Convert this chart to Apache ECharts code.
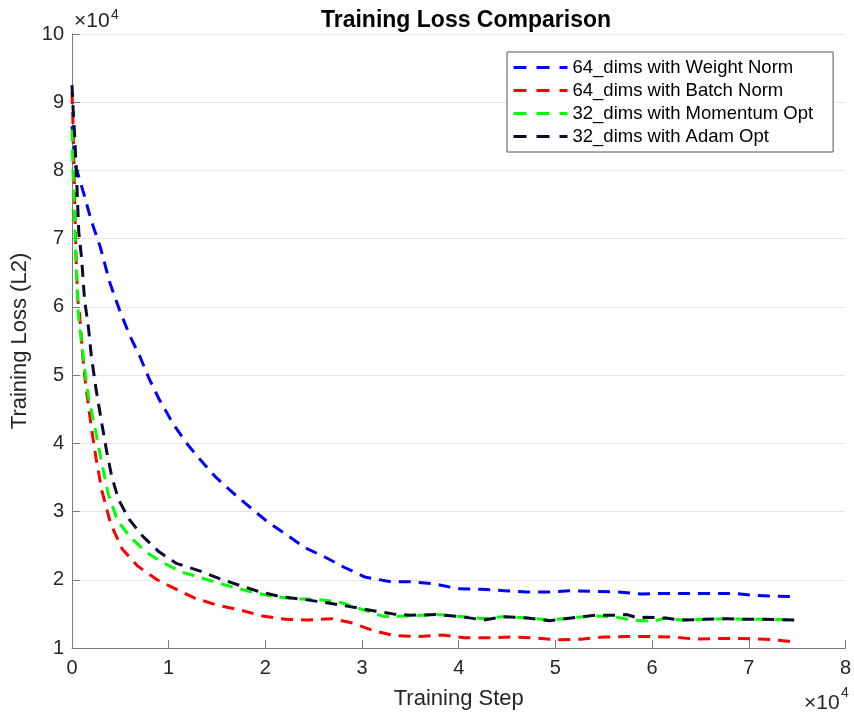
<!DOCTYPE html>
<html>
<head>
<meta charset="utf-8">
<script src="https://cdn.jsdelivr.net/npm/echarts@6/dist/echarts.min.js"></script>
<style>
  html, body { margin: 0; padding: 0; background: #fff; }
  #chart { width: 854px; height: 715px; }
</style>
</head>
<body>
<div id="chart"></div>
<script>
// 训练步数 / 损失 (原始单位, 坐标轴显示为 ×10^4)
var xTicks = [0, 10000, 20000, 30000, 40000, 50000, 60000, 70000, 80000];
var yTicks = [10000, 20000, 30000, 40000, 50000, 60000, 70000, 80000, 90000, 100000];

var seriesNames = [
  "64_dims with Weight Norm",
  "64_dims with Batch Norm",
  "32_dims with Momentum Opt",
  "32_dims with Adam Opt"
];

var weightNorm = [
  [0, 86500], [400, 80500], [1200, 76700], [2000, 72600], [2900, 68900], [3900, 63600],
  [4900, 59600], [6000, 55700], [7000, 52800], [8000, 49400], [9000, 46500], [10400, 43000],
  [11800, 40100], [13200, 37700], [14900, 35000], [16600, 32800], [18600, 30400], [20300, 28400],
  [22400, 26400], [24100, 24700], [26200, 23300], [28200, 21800], [30300, 20400], [33000, 19700],
  [35000, 19700], [37500, 19400], [39900, 18700], [42300, 18600], [44700, 18400], [47100, 18200],
  [49300, 18200], [51700, 18400], [54100, 18300], [56500, 18200], [58900, 17900], [61300, 18000],
  [63700, 18000], [66100, 18000], [68500, 18000], [70700, 17700], [73100, 17600], [74800, 17500]
];

var batchNorm = [
  [0, 91500], [100, 87000], [200, 81000], [300, 74000], [450, 66000], [600, 61100],
  [800, 58700], [1000, 54800], [1200, 51300], [1500, 47700], [2000, 42300], [2500, 37700],
  [3100, 33000], [4000, 28200], [5200, 24500], [6800, 22000], [8800, 20000], [10800, 18600],
  [12700, 17300], [15000, 16300], [17300, 15600], [19700, 14700], [22100, 14200], [24300, 14100],
  [26900, 14300], [28900, 13700], [31300, 12500], [33400, 11800], [35900, 11700], [38300, 11900],
  [40600, 11500], [43000, 11500], [45400, 11600], [47800, 11500], [50200, 11200], [52600, 11300],
  [55000, 11600], [57300, 11700], [59700, 11700], [62200, 11600], [64500, 11300], [66900, 11400],
  [69300, 11400], [71700, 11300], [74100, 11000], [74800, 10800]
];

var momentumOpt = [
  [0, 86000], [100, 80000], [200, 76000], [400, 67000], [650, 59000], [1200, 52000],
  [1700, 46800], [2300, 42800], [3000, 37700], [3700, 32800], [4700, 28700], [6000, 26300],
  [7700, 24000], [9400, 22500], [11400, 21100], [13800, 20100], [16200, 19100], [18600, 18200],
  [20700, 17600], [23100, 17200], [25500, 17100], [27500, 16800], [29900, 15700], [32300, 14600],
  [35000, 14700], [37800, 14900], [40200, 14600], [42600, 14300], [44600, 14600], [47100, 14400],
  [49400, 14100], [52200, 14500], [54200, 14700], [56000, 14600], [58000, 14100], [60100, 13900],
  [61400, 14400], [63000, 14100], [65400, 14200], [67800, 14300], [69500, 14200], [71600, 14200],
  [74800, 14100]
];

var adamOpt = [
  [0, 92500], [100, 89400], [300, 84500], [500, 78000], [700, 71000], [1000, 67000],
  [1300, 61000], [1700, 57000], [2000, 52800], [2500, 47800], [3100, 42800], [3600, 38700],
  [4100, 35200], [4800, 31800], [5900, 28900], [7300, 26400], [9000, 24100], [10800, 22400],
  [13200, 21300], [15200, 20200], [17300, 19200], [19500, 18200], [21700, 17500], [24100, 17100],
  [26500, 16600], [28600, 16100], [31000, 15500], [33200, 15000], [35000, 14800], [37800, 14900],
  [40200, 14600], [42600, 14100], [44600, 14600], [47100, 14400], [49400, 14000], [52200, 14500],
  [54200, 14800], [56000, 14800], [57400, 14900], [58500, 14400], [59300, 14500], [61400, 14400],
  [63000, 14100], [65400, 14200], [67800, 14300], [69500, 14200], [71600, 14200], [74800, 14100]
];

var colors = ["#0000ff", "#ff0000", "#00ff00", "#0b0b2e"];
var font = "Liberation Sans, Arial, Helvetica, sans-serif";

function makeSeries(name, data, color) {
  return {
    name: name,
    type: "line",
    data: data,
    showSymbol: false,
    symbol: "none",
    symbolSize: 0,
    lineStyle: { color: color, width: 3, type: [12, 8], cap: "butt" },
    itemStyle: { color: color },
    animation: false
  };
}

var chart = echarts.init(document.getElementById("chart"));

var option = {
  backgroundColor: "#fff",
  animation: false,
  title: {
    text: "Training Loss Comparison",
    left: 461,
    top: 4,
    textAlign: "center",
    textStyle: { fontFamily: font, fontSize: 23, fontWeight: "bold", color: "#000" }
  },
  grid: { left: 72, right: 4, top: 34, bottom: 66 },
  legend: {
    left: 507,
    top: 52,
    orient: "vertical",
    data: seriesNames,
    itemWidth: 54,
    itemHeight: 14,
    itemGap: 4,
    padding: [6, 20, 6, 5],
    borderColor: "#555",
    borderWidth: 1,
    backgroundColor: "#fff",
    itemStyle: { opacity: 0 },
    lineStyle: { width: 3, type: [13, 10] },
    textStyle: { fontFamily: font, fontSize: 18.5, color: "#000" }
  },
  xAxis: {
    type: "value",
    min: 0,
    max: 80000,
    interval: 10000,
    name: "Training Step",
    nameLocation: "middle",
    nameGap: 40,
    nameTextStyle: { fontFamily: font, fontSize: 22, color: "#262626" },
    axisLine: { onZero: false, lineStyle: { color: "#7a7a7a", width: 1 } },
    axisTick: { inside: true, length: 8, lineStyle: { color: "#7a7a7a" } },
    axisLabel: {
      margin: 10,
      fontFamily: font,
      fontSize: 20,
      color: "#262626",
      formatter: function (v) { return v / 10000; }
    },
    splitLine: { show: false }
  },
  yAxis: {
    type: "value",
    min: 10000,
    max: 100000,
    interval: 10000,
    name: "Training Loss (L2)",
    nameLocation: "middle",
    nameGap: 35,
    nameTextStyle: { fontFamily: font, fontSize: 22, color: "#262626" },
    axisLine: { show: true, lineStyle: { color: "#7a7a7a", width: 1 } },
    axisTick: { show: true, inside: true, length: 8, lineStyle: { color: "#7a7a7a" } },
    axisLabel: {
      margin: 8,
      fontFamily: font,
      fontSize: 20,
      color: "#262626",
      formatter: function (v) { return v / 10000; }
    },
    splitLine: { show: true, lineStyle: { color: "#e6e6e6", width: 1 } }
  },
  graphic: [
    // 左上角 ×10^4
    { type: "text", x: 74, y: 11, style: { text: "×10", fontFamily: font, fontSize: 21, fill: "#262626" } },
    { type: "text", x: 111, y: 8, style: { text: "4", fontFamily: font, fontSize: 14, fill: "#262626" } },
    // 右下角 ×10^4
    { type: "text", x: 804, y: 693, style: { text: "×10", fontFamily: font, fontSize: 21, fill: "#262626" } },
    { type: "text", x: 841, y: 686, style: { text: "4", fontFamily: font, fontSize: 14, fill: "#262626" } }
  ],
  series: [
    makeSeries(seriesNames[0], weightNorm, colors[0]),
    makeSeries(seriesNames[1], batchNorm, colors[1]),
    makeSeries(seriesNames[2], momentumOpt, colors[2]),
    makeSeries(seriesNames[3], adamOpt, colors[3])
  ]
};

chart.setOption(option);
</script>
</body>
</html>
